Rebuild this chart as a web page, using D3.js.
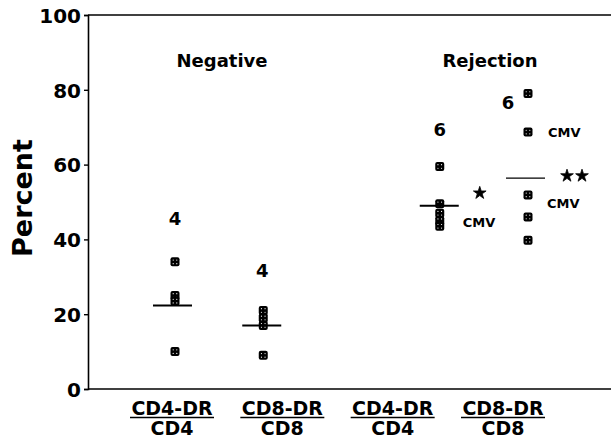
<!DOCTYPE html>
<html lang="en">
<head>
<meta charset="UTF-8">
<title>Percent DR positive</title>
<style>
  body { margin: 0; background: #fff; }
  text { font-family: "DejaVu Sans", sans-serif; font-weight: bold; fill: #000; }
</style>
</head>
<body>
<script src="https://d3js.org/d3.v7.min.js"></script>
<script>
// data
var columns = ["negCD4", "negCD8", "gap", "rejCD4", "rejCD8"];
var negCD4 = [34, 25, 23.5, 10];
var negCD8 = [21, 19, 17, 9];
var rejCD4 = [59.5, 49.5, 47, 45, 43.5];
var rejCD8 = [79, 68.7, 51.9, 46, 39.8];
var centerLines = [22.3, 17, 49, 56.4];
var countLabels = ["4", "4", "6", "6"];
var countValues = [45.5, 31.8, 69.3, 76.5];
var groupNames = ["Negative", "Rejection"];
var labelTop = ["CD4-DR", "CD8-DR", "CD4-DR", "CD8-DR"];
var labelBottom = ["CD4", "CD8", "CD4", "CD8"];
var yTicks = [0, 20, 40, 60, 80, 100];

var width = 611, height = 444;
var plotLeft = 88, plotTop = 15, plotBottom = 389;

var svg = d3.select("body").append("svg")
    .attr("width", width)
    .attr("height", height);

var y = d3.scaleLinear().domain([0, 100]).range([plotBottom, plotTop]);
var x = d3.scalePoint().domain(columns).range([175, 528]);
var xl = d3.scalePoint().domain(d3.range(4)).range([172, 503]);

// frame: top line and bottom line
svg.append("line").attr("x1", plotLeft).attr("x2", width).attr("y1", plotTop).attr("y2", plotTop)
    .attr("stroke", "#000").attr("stroke-width", 1.6);
svg.append("line").attr("x1", plotLeft).attr("x2", width).attr("y1", plotBottom).attr("y2", plotBottom)
    .attr("stroke", "#000").attr("stroke-width", 1.6);

var yAxis = svg.append("g")
    .attr("transform", "translate(" + plotLeft + ",0)")
    .call(d3.axisLeft(y).tickValues(yTicks).tickSize(4).tickPadding(3));
yAxis.select(".domain").attr("stroke-width", 1.6);
yAxis.selectAll(".tick line").attr("stroke-width", 1.4);
yAxis.selectAll(".tick text")
    .style("font-family", "DejaVu Sans")
    .style("font-weight", "bold")
    .style("font-size", "20px")
    .attr("dy", "0.36em");

svg.append("text")
    .attr("transform", "translate(32,198) rotate(-90)")
    .attr("text-anchor", "middle")
    .style("font-size", "27px")
    .text("Percent");

// group titles
svg.selectAll(".group").data(groupNames).enter().append("text")
    .attr("class", "group")
    .attr("x", function(d, i) { return i === 0 ? 222 : 490; })
    .attr("y", 67)
    .attr("text-anchor", "middle")
    .style("font-size", "18px")
    .text(function(d) { return d; });

// x category labels
var lab = svg.selectAll(".xlab").data(labelTop).enter().append("g")
    .attr("class", "xlab")
    .attr("transform", function(d, i) { return "translate(" + xl(i) + ",0)"; });
lab.append("text").attr("y", 415).attr("text-anchor", "middle")
    .style("font-size", "19px").text(function(d) { return d; });
lab.append("line").attr("x1", -42).attr("x2", 42).attr("y1", 417.5).attr("y2", 417.5)
    .attr("stroke", "#000").attr("stroke-width", 1.6);
lab.append("text").attr("y", 435).attr("text-anchor", "middle")
    .style("font-size", "19px").text(function(d, i) { return labelBottom[i]; });

// points
var series = [
  { key: "negCD4", vals: negCD4 },
  { key: "negCD8", vals: negCD8 },
  { key: "rejCD4", vals: rejCD4 },
  { key: "rejCD8", vals: rejCD8 }
];
var pts = [];
series.forEach(function(s) {
  s.vals.forEach(function(v) { pts.push({ key: s.key, v: v }); });
});

var mk = svg.selectAll(".pt").data(pts).enter().append("g")
    .attr("class", "pt")
    .attr("transform", function(d) { return "translate(" + x(d.key) + "," + y(d.v) + ")"; });
mk.append("rect").attr("x", -4.5).attr("y", -4.5).attr("width", 9).attr("height", 9)
    .attr("rx", 2).attr("fill", "#000");
[[-1.8, -1.8], [1.8, -1.8], [-1.8, 1.8], [1.8, 1.8]].forEach(function(p) {
  mk.append("circle").attr("cx", p[0]).attr("cy", p[1]).attr("r", 0.6).attr("fill", "#fff");
});

// centre lines
var lineKeys = ["negCD4", "negCD8", "rejCD4", "rejCD8"];
var lineOffsets = [-2, -1, 0, -2];
svg.selectAll(".cl").data(centerLines).enter().append("line")
    .attr("class", "cl")
    .attr("x1", function(d, i) { return x(lineKeys[i]) + lineOffsets[i] - 20; })
    .attr("x2", function(d, i) { return x(lineKeys[i]) + lineOffsets[i] + 19; })
    .attr("y1", function(d) { return y(d); })
    .attr("y2", function(d) { return y(d); })
    .attr("stroke", "#000")
    .attr("stroke-width", function(d, i) { return i === 3 ? 1.2 : 2; });

// count labels
var countDx = [0, -1, 0, -20];
svg.selectAll(".cnt").data(countLabels).enter().append("text")
    .attr("class", "cnt")
    .attr("x", function(d, i) { return x(lineKeys[i]) + countDx[i]; })
    .attr("y", function(d, i) { return y(countValues[i]); })
    .attr("dy", "0.36em")
    .attr("text-anchor", "middle")
    .style("font-size", "18px")
    .text(function(d) { return d; });

// CMV notes
var cmvNotes = [
  { key: "rejCD4", v: 44.5, dx: 23 },
  { key: "rejCD8", v: 68.7, dx: 20 },
  { key: "rejCD8", v: 49.7, dx: 19 }
];
svg.selectAll(".cmv").data(cmvNotes).enter().append("text")
    .attr("class", "cmv")
    .attr("x", function(d) { return x(d.key) + d.dx; })
    .attr("y", function(d) { return y(d.v); })
    .attr("dy", "0.36em")
    .style("font-size", "13px")
    .text("CMV");

// significance stars
var stars = [
  { key: "rejCD4", v: 52.4, dx: [40] },
  { key: "rejCD8", v: 57, dx: [39, 54] }
];
var star = d3.symbol().type(d3.symbolStar).size(50);
stars.forEach(function(s) {
  s.dx.forEach(function(dx) {
    svg.append("path")
      .attr("d", star())
      .attr("fill", "#000")
      .attr("stroke", "#000")
      .attr("stroke-width", 0.8)
      .attr("transform", "translate(" + (x(s.key) + dx) + "," + y(s.v) + ")");
  });
});
</script>
</body>
</html>
